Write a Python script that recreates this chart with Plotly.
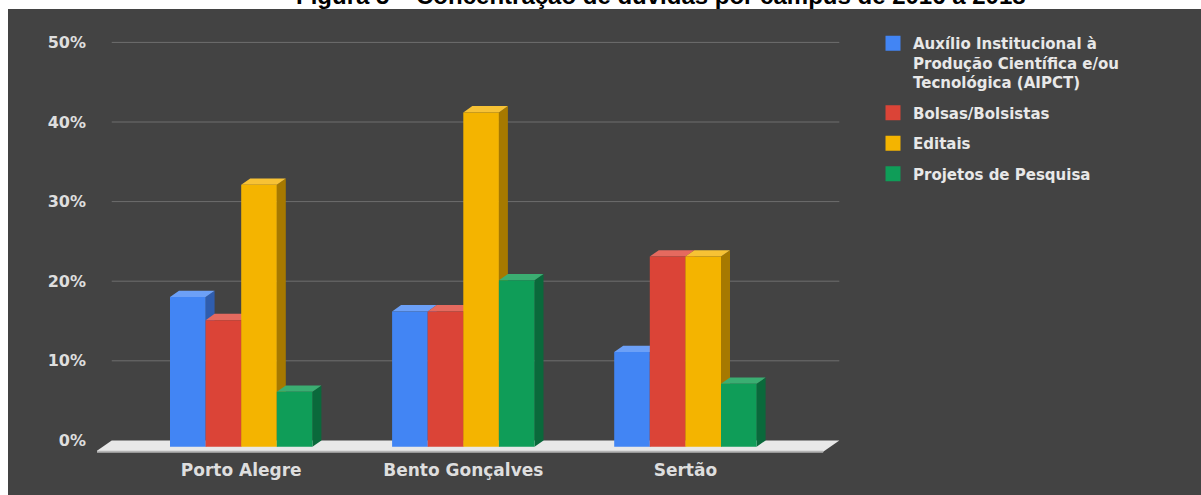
import plotly.graph_objects as go

# ---------------- data ----------------
categories = ["Porto Alegre", "Bento Gonçalves", "Sertão"]
series_names = [
    "Auxílio Institucional à<br>Produção Científica e/ou<br>Tecnológica (AIPCT)",
    "Bolsas/Bolsistas",
    "Editais",
    "Projetos de Pesquisa",
]
aipct = [18.8, 17.0, 11.9]
bolsas = [15.9, 17.0, 23.9]
editais = [32.9, 42.0, 23.9]
projetos = [6.9, 20.9, 7.9]
y_tick_values = [0, 10, 20, 30, 40, 50]
y_tick_labels = ["0%", "10%", "20%", "30%", "40%", "50%"]
title_text = "Figura 5 – Concentração de dúvidas por campus de 2016 a 2018"

series_values = [aipct, bolsas, editais, projetos]

# ---------------- styles ----------------
front_colors = ["#4285F4", "#DB4437", "#F4B400", "#0F9D58"]
top_colors = ["#6CA0F7", "#E56A5F", "#F7C235", "#3BAE72"]
side_colors = ["#2F5DAE", "#A2342A", "#A67900", "#0A693B"]
bg_dark = "#434343"
grid_color = "#6E6E6E"
text_color = "#DEDEDE"
FONT = "DejaVu Sans"

W, H = 1201, 495
L, R, T, B = 97, 840, 30, 460          # plot area in pixels
px_per_unit = 222.1                    # x pixels per category
px_per_pct = 7.96                      # y pixels per percent
first_center_px = 241.2
zero_front_px = 446.7

x_range = [-(first_center_px - L) / px_per_unit, (R - first_center_px) / px_per_unit]
y_range = [-(B - zero_front_px) / px_per_pct, (zero_front_px - T) / px_per_pct]

bar_w = 35.6 / px_per_unit
dx = 9.0 / px_per_unit
dy = 6.3 / px_per_pct
n_series = len(series_values)

fig = go.Figure()

# ---------------- floor ----------------
back_left = -0.583
back_right = 2.693
floor_front_y = -5.0 / px_per_pct
shift = (dy - floor_front_y) * (dx / dy)
fig.add_trace(go.Scatter(
    x=[back_left, back_right, back_right - shift, back_left - shift, back_left],
    y=[dy, dy, floor_front_y, floor_front_y, dy],
    fill="toself", fillcolor="#E8E8E8", mode="lines",
    line=dict(width=0), hoverinfo="skip", showlegend=False,
    xaxis="x", yaxis="y"))
fig.add_trace(go.Scatter(
    x=[back_left - shift, back_right - shift],
    y=[floor_front_y, floor_front_y],
    mode="lines", line=dict(color="#B4B4B4", width=2),
    hoverinfo="skip", showlegend=False, xaxis="x", yaxis="y"))

# ---------------- 3D side faces and top faces ----------------
def bar_x(ci, si):
    return ci + (si - (n_series - 1) / 2) * bar_w

for si, vals in enumerate(series_values):
    sx, sy = [], []
    for ci, v in enumerate(vals):
        x1 = bar_x(ci, si) + bar_w / 2
        sx += [x1, x1, x1 + dx, x1 + dx, x1, None]
        sy += [0, v, v + dy, dy, 0, None]
    fig.add_trace(go.Scatter(
        x=sx, y=sy, fill="toself", fillcolor=side_colors[si], mode="lines",
        line=dict(width=0), hoverinfo="skip", showlegend=False,
        legendgroup=f"g{si}", xaxis="x", yaxis="y"))

for si, vals in enumerate(series_values):
    tx, ty = [], []
    for ci, v in enumerate(vals):
        x0 = bar_x(ci, si) - bar_w / 2
        x1 = x0 + bar_w
        tx += [x0, x0 + dx, x1 + dx, x1, x0, None]
        ty += [v, v + dy, v + dy, v, v, None]
    fig.add_trace(go.Scatter(
        x=tx, y=ty, fill="toself", fillcolor=top_colors[si], mode="lines",
        line=dict(width=0), hoverinfo="skip", showlegend=False,
        legendgroup=f"g{si}", xaxis="x", yaxis="y"))

# ---------------- front faces (real bars) ----------------
for si, vals in enumerate(series_values):
    fig.add_trace(go.Bar(
        x=[bar_x(ci, si) for ci in range(len(categories))],
        y=vals, width=bar_w, marker=dict(color=front_colors[si], line=dict(width=0)),
        name=series_names[si], showlegend=False, legendgroup=f"g{si}",
        customdata=categories,
        xaxis="x2", yaxis="y2",
        hovertemplate="%{customdata}: %{y:.1f}%<extra></extra>"))

# ---------------- legend entries ----------------
for si in range(n_series):
    fig.add_trace(go.Scatter(
        x=[None], y=[None], mode="markers",
        marker=dict(symbol="square", size=15, color=front_colors[si]),
        name=series_names[si], legendgroup=f"g{si}", showlegend=True,
        xaxis="x", yaxis="y"))

# ---------------- gridlines on back wall ----------------
shapes = []
for v in y_tick_values[1:]:
    shapes.append(dict(type="line", xref="x", yref="y", layer="below",
                       x0=back_left, x1=back_right, y0=v + dy, y1=v + dy,
                       line=dict(color=grid_color, width=1)))

# dark background panel and white margins
def pxx(p):
    return (p - L) / (R - L)

def pxy(p):
    return (B - p) / (B - T)

shapes.insert(0, dict(type="rect", xref="paper", yref="paper", layer="below",
                      x0=pxx(8), x1=pxx(W + 20), y0=pxy(H + 20), y1=pxy(9),
                      fillcolor=bg_dark, line=dict(width=0)))

fig.update_layout(
    width=W, height=H,
    margin=dict(l=L, r=W - R, t=T, b=H - B),
    paper_bgcolor="white", plot_bgcolor="rgba(0,0,0,0)",
    barmode="overlay",
    shapes=shapes,
    xaxis=dict(range=x_range, tickmode="array", tickvals=list(range(len(categories))),
               ticktext=categories, showgrid=False, zeroline=False, showline=False,
               ticks="", ticklabelstandoff=-2,
               tickfont=dict(family=FONT, size=17, color=text_color, weight="bold"),
               fixedrange=True),
    yaxis=dict(range=y_range, tickmode="array", tickvals=[v + dy for v in y_tick_values],
               ticktext=y_tick_labels, showgrid=False, zeroline=False, showline=False,
               ticks="", ticklabelstandoff=10,
               tickfont=dict(family=FONT, size=16, color=text_color, weight="bold"),
               fixedrange=True),
    xaxis2=dict(range=x_range, overlaying="x", visible=False, fixedrange=True),
    yaxis2=dict(range=y_range, overlaying="y", visible=False, fixedrange=True),
    legend=dict(x=pxx(873), y=pxy(27), xanchor="left", yanchor="top",
                font=dict(family=FONT, size=15, color="#E8E8E8", weight="bold"),
                bgcolor="rgba(0,0,0,0)", traceorder="grouped", tracegroupgap=8,
                valign="top", itemclick=False, itemdoubleclick=False),
    annotations=[dict(text=title_text, xref="paper", yref="paper",
                      x=pxx(660.5), y=pxy(-4), xanchor="center", yanchor="middle",
                      showarrow=False,
                      font=dict(family="Liberation Sans", size=24, color="black",
                                weight="bold"))],
    hovermode="closest",
)

fig.write_html("out.html")
